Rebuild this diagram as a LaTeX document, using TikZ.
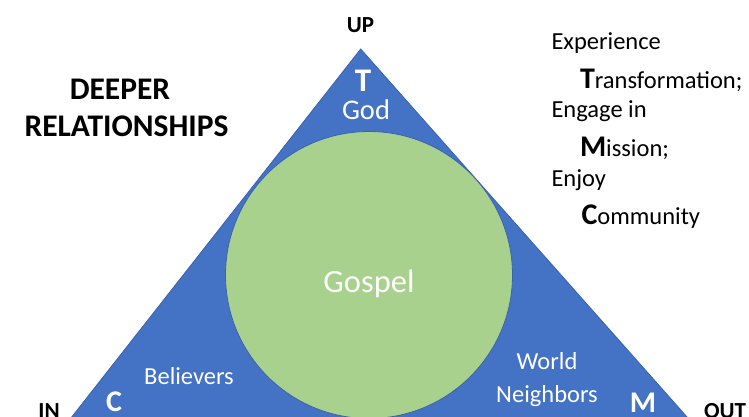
\documentclass[tikz,border=0pt]{standalone}
\usepackage{fontspec}
\setmainfont{Carlito}
\definecolor{triblue}{HTML}{4472C4}
\definecolor{edgeblue}{HTML}{3A63AE}
\definecolor{gospelgreen}{HTML}{A9D18E}
\newcommand{\fs}[1]{\fontsize{#1}{#1}\selectfont}
\begin{document}
\begin{tikzpicture}[x=1pt,y=-1pt,
  txt/.style={inner sep=0pt, outer sep=0pt},
  inlbl/.style={txt, text=white, anchor=base},
  dirlbl/.style={txt, text=black, font=\fs{23}\bfseries, anchor=base},
  headlbl/.style={txt, text=black, font=\fs{31.5}\bfseries, anchor=base},
  sidelbl/.style={txt, text=black, font=\fs{24.5}, anchor=base west}]
\useasboundingbox (0,0) rectangle (749,417);
\clip (0,0) rectangle (749,417);

% triangle, its base running below the frame
\coordinate (apex) at (360.7,49);
\coordinate (bl) at (45.8,450);
\coordinate (br) at (716.3,450);
\fill[triblue, draw=edgeblue, line width=0.8pt, line join=miter] (apex) -- (br) -- (bl) -- cycle;

% gospel circle
\node[circle, minimum size=287pt, inner sep=0pt, fill=gospelgreen, draw=edgeblue, line width=0.8pt] (gospel) at (369,275) {};

% labels inside the triangle
\node[inlbl, font=\fs{33}\bfseries] (t) at (363,92) {T};
\node[inlbl, font=\fs{28.5}] (god) at (366,119.3) {God};
\node[inlbl, font=\fs{32.5}] (gospeltxt) at (369,292) {Gospel};
\node[inlbl, font=\fs{24.5}] (believers) at (189,384) {Believers};
\node[inlbl, font=\fs{24.5}] (world) at (547,369.3) {World};
\node[inlbl, font=\fs{24.5}] (neighbors) at (547,402.7) {Neighbors};
\node[inlbl, font=\fs{30}\bfseries] (c) at (114,411.7) {C};
\node[inlbl, font=\fs{30}\bfseries] (m) at (643,412.7) {M};

% directions
\node[dirlbl] (up) at (360.5,33) {UP};
\node[dirlbl] (in) at (49,418.5) {IN};
\node[dirlbl, anchor=base west] (out) at (704,418.5) {OUT};

% heading
\node[headlbl] (deeper) at (120,99.3) {DEEPER};
\node[headlbl] (relations) at (126.5,136) {RELATIONSHIPS};

% list on the right
\node[sidelbl] (l1) at (551.5,49.3) {Experience};
\node[sidelbl] (l2) at (580,88.3) {{\fs{30}\bfseries T}ransformation;};
\node[sidelbl] (l3) at (551.5,117.7) {Engage in};
\node[sidelbl] (l4) at (580,156) {{\fs{30}\bfseries M}ission;};
\node[sidelbl] (l5) at (551.5,186.7) {Enjoy};
\node[sidelbl] (l6) at (581.5,224) {{\fs{30}\bfseries C}ommunity};
\end{tikzpicture}
\end{document}
